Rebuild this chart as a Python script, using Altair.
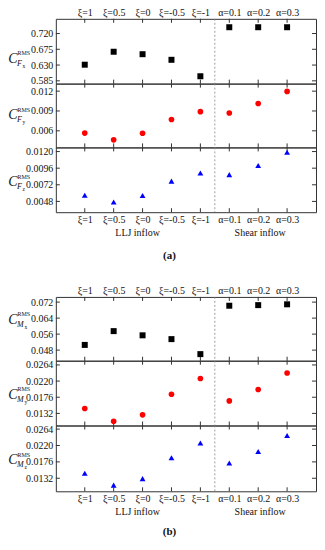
import altair as alt
import pandas as pd

# ---- data -------------------------------------------------------------
cats = ["ξ=1", "ξ=0.5", "ξ=0", "ξ=-0.5", "ξ=-1", "α=0.1", "α=0.2", "α=0.3"]
n_llj = 5  # first five are LLJ inflow, rest shear inflow

fx = [0.631, 0.668, 0.661, 0.645, 0.598, 0.738, 0.738, 0.738]
fy = [0.00566, 0.00463, 0.00563, 0.00771, 0.0089, 0.0087, 0.01013, 0.01196]
fz = [0.00569, 0.0047, 0.00565, 0.00773, 0.0089, 0.00867, 0.0100, 0.0119]
mx = [0.0506, 0.0575, 0.0554, 0.0535, 0.0460, 0.0702, 0.0705, 0.0709]
my = [0.01454, 0.01105, 0.0128, 0.0184, 0.0227, 0.0166, 0.0197, 0.0242]
mz = [0.01452, 0.01136, 0.0131, 0.0187, 0.0227, 0.0173, 0.0204, 0.0247]

fx_ticks = [0.585, 0.630, 0.675, 0.720]
fy_ticks = [0.006, 0.009, 0.012]
fz_ticks = [0.0048, 0.0072, 0.0096, 0.0120]
mx_ticks = [0.048, 0.056, 0.064, 0.072]
my_ticks = [0.0132, 0.0176, 0.0220, 0.0264]
mz_ticks = [0.0132, 0.0176, 0.0220, 0.0264]

# ---- style ------------------------------------------------------------
FONT = "Liberation Serif"
W = 261
TXT = "#111111"

label_expr = "[" + ",".join("'" + c + "'" for c in cats) + "][datum.value - 1]"
positions = list(range(1, len(cats) + 1))


def panel(vals, domain, ticks, fmt, sub1, sub2, color, shape, size, h,
          title_dy, top=False, bottom=False, group=None, group_dy=44):
    df = pd.DataFrame({"pos": positions, "v": vals})
    xs = alt.Scale(domain=[0, len(cats) + 1], nice=False, zero=False)
    ys = alt.Scale(domain=domain, nice=False, zero=False)

    if top:
        xaxis = alt.Axis(orient="top", values=positions, labelExpr=label_expr,
                         ticks=False, tickSize=0, domain=False, grid=False,
                         labelPadding=1, labelFontSize=10, labelFont=FONT,
                         labelColor=TXT, title=None, minExtent=0)
    elif bottom:
        xaxis = alt.Axis(orient="bottom", values=positions, labelExpr=label_expr,
                         ticks=False, tickSize=0, domain=False, grid=False,
                         labelPadding=2, labelFontSize=10, labelFont=FONT,
                         labelColor=TXT, title=None, minExtent=0)
    else:
        xaxis = None
    yaxis = alt.Axis(values=ticks, format=fmt, ticks=False, tickSize=0,
                     domain=False, grid=False, labelPadding=3,
                     labelFontSize=10, labelFont=FONT, labelColor=TXT,
                     title=None, minExtent=0)

    def X():
        return alt.X("pos:Q", scale=xs, axis=xaxis)

    def Y():
        return alt.Y("v:Q", scale=ys, axis=yaxis)

    base = alt.Chart(df)
    pts = base.mark_point(shape=shape, filled=True, size=size, color=color,
                          opacity=1).encode(x=X(), y=Y())

    # inward ticks on top and bottom edges
    xt_top = base.mark_rule(color="#333333", strokeWidth=1).encode(
        x=X(), y=alt.value(0), y2=alt.value(4))
    xt_bot = base.mark_rule(color="#333333", strokeWidth=1).encode(
        x=X(), y=alt.value(h - 4), y2=alt.value(h))
    # inward ticks on the left and right edges
    tdf = pd.DataFrame({"v": ticks})
    yt = alt.Chart(tdf).mark_rule(color="#333333", strokeWidth=1).encode(
        y=Y(), x=alt.value(0), x2=alt.value(4))
    yt_r = alt.Chart(tdf).mark_rule(color="#333333", strokeWidth=1).encode(
        y=Y(), x=alt.value(W - 4), x2=alt.value(W))

    # dotted divider between LLJ and shear inflow
    ddf = pd.DataFrame({"pos": [n_llj + 0.5]})
    div = alt.Chart(ddf).mark_rule(color="#888888", strokeDash=[2, 2],
                                   strokeWidth=0.8).encode(x=X())

    sub_dx = 5.5 if sub1 == "F" else 7.5
    one = alt.Chart(pd.DataFrame({"a": [0]}))
    tC = one.mark_text(text="C", font=FONT, fontStyle="italic", fontSize=14,
                       color=TXT, align="center", baseline="middle").encode(
        x=alt.value(-43), y=alt.value(title_dy))
    tR = one.mark_text(text="RMS", font=FONT, fontSize=6, color=TXT,
                       align="left", baseline="middle").encode(
        x=alt.value(-38.5), y=alt.value(title_dy - 5.5))
    tS = one.mark_text(text=sub1, font=FONT, fontStyle="italic", fontSize=8,
                       color=TXT, align="left", baseline="middle").encode(
        x=alt.value(-39), y=alt.value(title_dy + 5))
    tS2 = one.mark_text(text=sub2, font=FONT, fontSize=5.5, color=TXT,
                        align="left", baseline="middle").encode(
        x=alt.value(-39 + sub_dx), y=alt.value(title_dy + 7))

    layers = [div, xt_top, xt_bot, yt, yt_r, pts, tC, tR, tS, tS2]

    if bottom and group is not None:
        tL = one.mark_text(text="LLJ inflow", font=FONT, fontSize=10,
                           color=TXT, align="center", baseline="middle").encode(
            x=alt.value(82), y=alt.value(h + 21))
        tSh = one.mark_text(text="Shear inflow", font=FONT, fontSize=10,
                            color=TXT, align="center", baseline="middle").encode(
            x=alt.value(205), y=alt.value(h + 21))
        tG = one.mark_text(text=group, font=FONT, fontSize=11, fontWeight="bold",
                           color=TXT, align="center", baseline="middle").encode(
            x=alt.value(114), y=alt.value(h + group_dy))
        layers += [tL, tSh, tG]

    return alt.layer(*layers).properties(width=W, height=h)


p1a = panel(fx, [0.577, 0.762], fx_ticks, ".3f", "F", "x", "#000000", "square", 36, 65, 40, top=True)
p2a = panel(fy, [0.00349, 0.01314], fy_ticks, ".3f", "F", "y", "#ff0000", "circle", 32, 64, 32)
p3a = panel(fz, [0.00324, 0.0126], fz_ticks, ".4f", "F", "z", "#0000ff", "triangle-up", 34, 65, 35, bottom=True, group="(a)", group_dy=44)

spacer = alt.Chart(pd.DataFrame({"a": [0]})).mark_point(opacity=0).encode(
    x=alt.value(0), y=alt.value(0)).properties(
    width=W, height=85, view=alt.ViewBackground(strokeOpacity=0))

p1b = panel(mx, [0.0427, 0.0746], mx_ticks, ".3f", "M", "x", "#000000", "square", 36, 64, 23, top=True)
p2b = panel(my, [0.0099, 0.02755], my_ticks, ".4f", "M", "y", "#ff0000", "circle", 32, 65, 34)
p3b = panel(mz, [0.0097, 0.02737], mz_ticks, ".4f", "M", "z", "#0000ff", "triangle-up", 34, 66, 35, bottom=True, group="(b)", group_dy=41)

chart = alt.vconcat(p1a, p2a, p3a, spacer, p1b, p2b, p3b, spacing=0,
                    bounds="flush").properties(
    padding={"left": -1, "top": -2, "right": 0, "bottom": 0},
    background="white",
).configure_view(stroke="#333333", strokeWidth=1)

chart.save("out.html", embed_options={"renderer": "svg", "actions": False})
